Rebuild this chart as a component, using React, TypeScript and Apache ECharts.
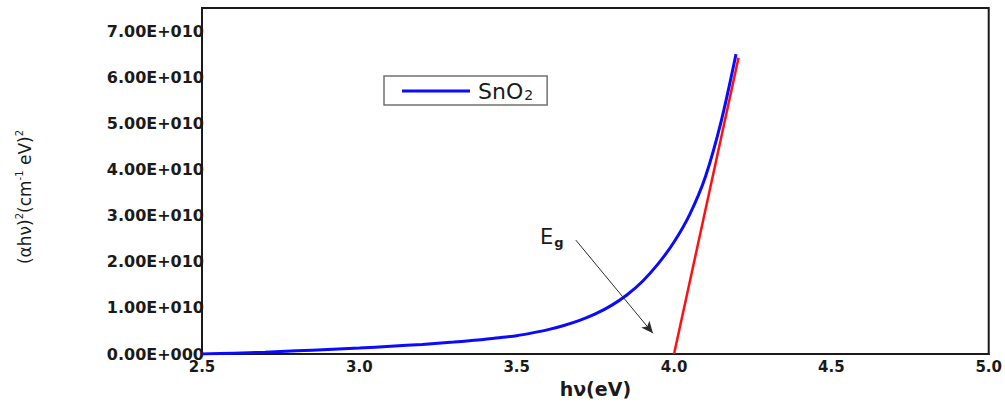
import React, { useEffect, useRef } from 'react';
import * as echarts from 'echarts';

// Tauc plot of SnO2: (αhν)² versus photon energy hν
const photonEnergy = [
  2.5, 2.6, 2.7, 2.8, 2.9, 3.0, 3.1, 3.2, 3.3, 3.35, 3.4, 3.45, 3.5, 3.55, 3.6,
  3.65, 3.7, 3.75, 3.8, 3.85, 3.9, 3.95, 4.0, 4.05, 4.1, 4.15, 4.197,
];
// (αhν)² in units of 1E+010 (cm⁻¹ eV)²
const taucValue = [
  0.0, 0.02, 0.04, 0.07, 0.1, 0.13, 0.17, 0.21, 0.26, 0.29, 0.32, 0.36, 0.4,
  0.46, 0.53, 0.62, 0.73, 0.87, 1.05, 1.28, 1.58, 1.96, 2.43, 3.03, 3.85, 5.05,
  6.5,
];
// linear extrapolation of the absorption edge to the energy axis
const fitEnergy = [4.0, 4.205];
const fitValue = [0, 6.42];
// arrow pointing to the band gap
const arrowFrom = [3.688, 2.47];
const arrowTo = [3.933, 0.45];

const xTickLabels = ['2.5', '3.0', '3.5', '4.0', '4.5', '5.0'];
const yTickLabels = [
  '0.00E+000', '1.00E+010', '2.00E+010', '3.00E+010',
  '4.00E+010', '5.00E+010', '6.00E+010', '7.00E+010',
];

const UNIT = 1e10;
const X_MIN = 2.5;
const X_STEP = 0.5;

export default function App() {
  const ref = useRef<HTMLDivElement>(null);

  useEffect(() => {
    if (!ref.current) return;
    const chart = echarts.init(ref.current, undefined, { renderer: 'svg' });

    const curve = photonEnergy.map((e, i) => [e, taucValue[i] * UNIT]);
    const fit = fitEnergy.map((e, i) => [e, fitValue[i] * UNIT]);

    chart.setOption({
      animation: false,
      backgroundColor: '#ffffff',
      grid: {
        left: 202,
        right: 16,
        top: 8,
        bottom: 46,
        show: true,
        borderColor: '#1a1a1a',
        borderWidth: 2,
      },
      legend: {
        left: 384,
        top: 76,
        orient: 'horizontal',
        data: [{ name: 'SnO2', icon: 'rect' }],
        itemWidth: 68,
        itemHeight: 3,
        padding: [3, 14, 3, 18],
        borderColor: '#707070',
        borderWidth: 1.5,
        formatter: () => '{a|SnO}{s|2}',
        textStyle: {
          padding: [0, 0, 0, 3],
          rich: {
            a: { fontFamily: 'DejaVu Sans', fontSize: 22, color: '#1a1a1a', lineHeight: 22 },
            s: { fontFamily: 'DejaVu Sans', fontSize: 14, color: '#1a1a1a', verticalAlign: 'bottom', lineHeight: 22, padding: [9, 0, 0, 1] },
          },
        },
      },
      xAxis: {
        type: 'value',
        min: 2.5,
        max: 5.0,
        interval: 0.5,
        name: 'hν(eV)',
        nameLocation: 'middle',
        nameGap: 22,
        nameTextStyle: {
          fontFamily: 'DejaVu Sans',
          fontWeight: 'bold',
          fontSize: 19,
          color: '#1a1a1a',
        },
        axisLine: { show: true, lineStyle: { color: '#1a1a1a', width: 2 } },
        axisTick: { show: false },
        splitLine: { show: false },
        axisLabel: {
          margin: 5,
          fontFamily: 'DejaVu Sans',
          fontWeight: 'bold',
          fontSize: 15,
          color: '#1a1a1a',
          formatter: (v: number) => xTickLabels[Math.round((v - X_MIN) / X_STEP)] ?? '',
        },
      },
      yAxis: {
        type: 'value',
        min: 0,
        max: 7.5 * UNIT,
        interval: UNIT,
        axisLine: { show: true, lineStyle: { color: '#1a1a1a', width: 2 } },
        axisTick: { show: false },
        splitLine: { show: false },
        axisLabel: {
          margin: -2,
          fontFamily: 'DejaVu Sans',
          fontWeight: 'bold',
          fontSize: 16,
          color: '#1a1a1a',
          formatter: (v: number) => {
            const i = Math.round(v / UNIT);
            if (Math.abs(v - i * UNIT) > 1) return '';
            return yTickLabels[i] ?? '';
          },
        },
      },
      series: [
        {
          name: 'SnO2',
          type: 'line',
          data: curve,
          smooth: 0.3,
          showSymbol: false,
          symbol: 'none',
          lineStyle: { color: '#0a0aff', width: 3 },
          itemStyle: { color: '#0a0aff' },
          z: 3,
        },
        {
          name: 'fit',
          type: 'line',
          data: fit,
          showSymbol: false,
          symbol: 'none',
          lineStyle: { color: '#ff1010', width: 2.5 },
          itemStyle: { color: '#ff1010' },
          z: 4,
          markLine: {
            silent: true,
            symbol: ['none', 'arrow'],
            symbolSize: [8, 12],
            label: { show: false },
            lineStyle: { color: '#2a2a2a', width: 1, type: 'solid' },
            data: [
              [
                { coord: [arrowFrom[0], arrowFrom[1] * UNIT] },
                { coord: [arrowTo[0], arrowTo[1] * UNIT] },
              ],
            ],
          },
        },
      ],
      graphic: [
        {
          type: 'text',
          x: 25,
          y: 197,
          rotation: Math.PI / 2,
          style: {
            text: '{b|(αhν)}{p|2}{b|(cm}{p|-1}{b| eV)}{p|2}',
            align: 'center',
            verticalAlign: 'middle',
            rich: {
              b: { fontFamily: 'DejaVu Sans', fontSize: 17, fill: '#1a1a1a', lineHeight: 22 },
              p: { fontFamily: 'DejaVu Sans', fontSize: 10, fill: '#1a1a1a', verticalAlign: 'top', lineHeight: 22, padding: [0, 0, 8, 0] },
            },
          },
        },
        {
          type: 'text',
          left: 540,
          top: 225,
          style: {
            text: '{e|E}{g|g}',
            rich: {
              e: { fontFamily: 'DejaVu Sans', fontSize: 21, fill: '#1a1a1a', lineHeight: 24 },
              g: { fontFamily: 'DejaVu Sans', fontWeight: 'bold', fontSize: 13, fill: '#1a1a1a', lineHeight: 24, verticalAlign: 'bottom', padding: [11, 0, 0, 1] },
            },
          },
        },
      ],
    });

    return () => chart.dispose();
  }, []);

  return (
    <div
      ref={ref}
      style={{ position: 'fixed', left: 0, top: 0, width: 1005, height: 403, background: '#fff' }}
    />
  );
}
